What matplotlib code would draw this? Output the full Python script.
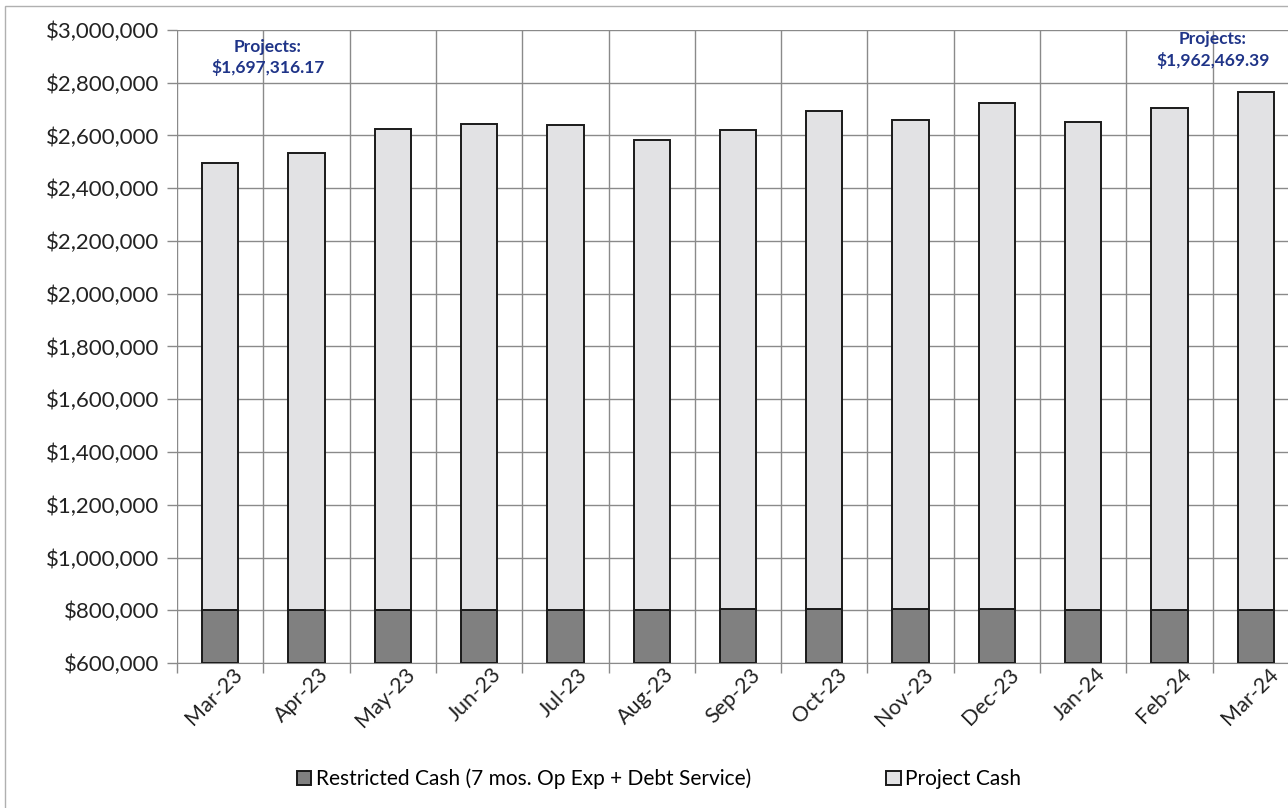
import numpy as np
import matplotlib.pyplot as plt
from matplotlib.patches import Rectangle
from matplotlib.ticker import FuncFormatter, FixedLocator
import matplotlib.transforms as mtransforms

months = ['Mar-23', 'Apr-23', 'May-23', 'Jun-23', 'Jul-23', 'Aug-23', 'Sep-23',
          'Oct-23', 'Nov-23', 'Dec-23', 'Jan-24', 'Feb-24', 'Mar-24']
restricted = [800000, 800500, 801000, 801500, 802000, 802500, 803000,
              803500, 804000, 804500, 802000, 802200, 802000]
project = [1697316.17, 1733150, 1823600, 1842100, 1839000, 1779300, 1816700,
           1889400, 1854800, 1918700, 1850400, 1903300, 1962469.39]
yticks = np.arange(600000, 3000001, 200000)

plt.rcParams['font.family'] = ['Lato', 'DejaVu Sans']

fig = plt.figure(figsize=(12.88, 8.08), dpi=100)
ax = fig.add_axes([177/1288, 1-663/808, 1122/1288, 633/808])

x = np.arange(len(months))
w = 0.42
ax.bar(x, np.array(restricted) - 600000, w, bottom=600000, color='#808080',
       edgecolor='#1a1a1a', linewidth=1.4, zorder=3,
       label='Restricted Cash (7 mos. Op Exp + Debt Service)')
ax.bar(x, project, w, bottom=restricted, color='#e2e2e4',
       edgecolor='#1a1a1a', linewidth=1.4, zorder=3, label='Project Cash')

ax.set_xlim(-0.5, len(months) - 0.5)
ax.set_ylim(600000, 3000000)
ax.set_yticks(yticks)
ax.yaxis.set_major_formatter(FuncFormatter(lambda v, p: f'${v:,.0f}'))
ax.set_xticks(x)
ax.set_xticklabels(months, rotation=45, ha='right', rotation_mode='anchor')
ax.xaxis.set_minor_locator(FixedLocator(np.arange(-0.5, len(months), 1)))

ax.grid(axis='y', which='major', color='#8a8a8a', linewidth=1.0, zorder=0)
ax.grid(axis='x', which='minor', color='#8a8a8a', linewidth=1.0, zorder=0)
ax.tick_params(axis='x', which='major', length=0, labelsize=15.5, colors='#222222', pad=1)
ax.tick_params(axis='x', which='minor', length=7, color='#8a8a8a', width=1.0)
ax.tick_params(axis='y', length=7, color='#8a8a8a', width=1.0, labelsize=16,
               labelcolor='#222222', pad=6)
for lbl in ax.get_xticklabels():
    lbl.set_transform(lbl.get_transform() + mtransforms.ScaledTranslation(0.12, 0, fig.dpi_scale_trans))
for s in ['top', 'right', 'left']:
    ax.spines[s].set_visible(False)
ax.spines['bottom'].set_color('#8a8a8a')

# project cash callouts for first and last month
for i, dx, top in [(0, 0.55, 2965000), (12, -0.5, 2995000)]:
    ax.text(x[i] + dx, top, f'Projects:\n${project[i]:,.2f}',
            ha='center', va='top', color='#1f3488', fontsize=12.5, fontweight='bold',
            linespacing=1.3, zorder=4)

fig.legend(loc='lower left', bbox_to_anchor=(278/1288, 0.0), ncol=2, frameon=False,
           fontsize=15, handlelength=0.7, handleheight=0.7, handletextpad=0.2,
           columnspacing=6.5)

fig.patches.append(Rectangle((5/1288, -0.1), 1.2, 1.1 - 6/808, transform=fig.transFigure,
                             fill=False, edgecolor='#b0b0b0', linewidth=1.0))

fig.savefig('out.png', dpi=100)
